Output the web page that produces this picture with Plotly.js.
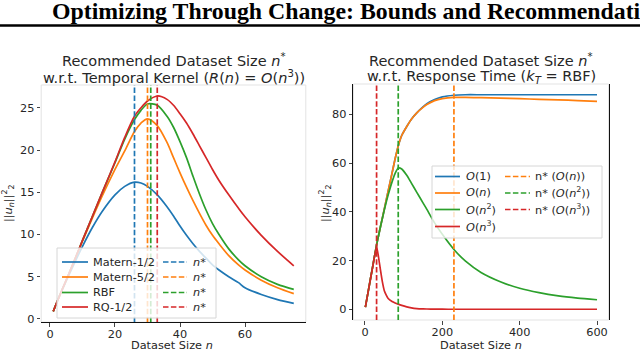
<!DOCTYPE html>
<html>
<head>
<meta charset="utf-8">
<script src="https://cdn.plot.ly/plotly-3.0.1.min.js"></script>
<style>
  html, body { margin: 0; padding: 0; background: #fff; }
  #chart { width: 640px; height: 350px; }
</style>
</head>
<body>
<div id="chart"></div>
<script>
// ---- left panel: temporal kernels ----
const nLeft = [1, 3, 5, 8, 10, 13, 16, 20, 23, 26, 28, 30, 33, 36, 38, 40, 42, 44, 46, 48, 50, 52, 55, 58, 60, 65, 70, 75];
const matern12 = [0.9, 2.8, 4.5, 7.0, 8.6, 10.8, 12.7, 14.7, 15.7, 16.2, 16.1, 15.7, 14.7, 13.3, 12.2, 11.0, 9.9, 8.9, 8.0, 7.2, 6.4, 5.8, 5.0, 4.3, 3.7, 2.9, 2.3, 1.85];
const matern52 = [0.9, 2.8, 4.6, 7.4, 9.2, 11.9, 14.5, 17.7, 19.9, 22.2, 23.2, 23.7, 22.9, 20.9, 19.1, 17.3, 15.6, 14.0, 12.5, 11.1, 9.9, 8.9, 7.5, 6.4, 5.8, 4.6, 3.7, 3.0];
const rbf = [0.9, 2.8, 4.6, 7.4, 9.3, 12.1, 14.9, 18.5, 21.3, 23.6, 24.7, 25.45, 25.3, 24.0, 22.7, 21.0, 19.1, 16.9, 14.8, 12.9, 11.3, 10.0, 8.3, 7.0, 6.3, 5.0, 4.1, 3.5];
const rq12 = [0.9, 2.8, 4.6, 7.4, 9.3, 12.1, 14.9, 18.6, 21.5, 24.0, 25.0, 25.8, 26.4, 26.0, 25.3, 24.3, 23.2, 21.9, 20.5, 19.1, 17.7, 16.4, 14.7, 13.1, 12.1, 9.9, 8.0, 6.3];
const kernelNames = ["Matern-1/2", "Matern-5/2", "RBF", "RQ-1/2"];
const kernelNStar = [26, 30, 31, 33];
const kernelNStarNames = ["<i>n</i>*", "<i>n</i>*", "<i>n</i>*", "<i>n</i>*"];

// ---- right panel: response time ----
const nRight = [1, 10, 20, 30, 35, 40, 45, 50, 55, 60, 70, 78, 86, 95, 108, 120, 134, 150, 160, 180, 200, 230, 260, 300, 350, 400, 450, 500, 550, 600];
const o1 = [1, 8.9, 17.7, 26.5, 30.2, 33.9, 37.5, 41.2, 44.9, 48.6, 55.9, 61.8, 67.0, 71.3, 75.0, 78.0, 80.6, 83.0, 84.3, 86.0, 87.1, 87.8, 88.0, 88.0, 88.0, 88.0, 88.0, 88.0, 88.0, 88.0];
const oN = [1, 8.9, 17.7, 26.5, 30.2, 33.9, 37.5, 41.2, 44.9, 48.6, 55.9, 61.8, 67.0, 71.3, 75.0, 78.0, 80.6, 82.8, 84.0, 85.6, 86.4, 86.9, 86.9, 86.8, 86.6, 86.4, 86.1, 85.9, 85.6, 85.3];
const oN2 = [1, 8.9, 17.7, 26.5, 30.2, 33.9, 37.4, 40.8, 44.0, 47.0, 52.3, 55.8, 58.0, 57.6, 55.0, 51.8, 48.0, 43.7, 41.0, 35.5, 30.8, 24.6, 19.8, 15.2, 11.4, 8.7, 6.9, 5.6, 4.7, 4.0];
const oN3 = [1, 8.9, 17.5, 25.7, 21.5, 16.2, 11.3, 7.7, 5.9, 4.5, 3.3, 2.7, 2.2, 1.7, 1.1, 0.7, 0.4, 0.25, 0.2, 0.15, 0.12, 0.1, 0.1, 0.1, 0.1, 0.1, 0.1, 0.1, 0.1, 0.1];
const costNames = ["<i>O</i>(1)", "<i>O</i>(<i>n</i>)", "<i>O</i>(<i>n</i><sup>2</sup>)", "<i>O</i>(<i>n</i><sup>3</sup>)"];
const costNStar = [230, 86, 30];
const costNStarNames = ["n* (<i>O</i>(<i>n</i>))", "n* (<i>O</i>(<i>n</i><sup>2</sup>))", "n* (<i>O</i>(<i>n</i><sup>3</sup>))"];

const colors = ["#1f77b4", "#ff7f0e", "#2ca02c", "#d62728"];
const FONT = "DejaVu Sans";
const DASH = "5.5px,2.4px";
const W = 640, H = 350;
const px = x => x / W;
const py = y => 1 - y / H;

const traces = [];

[matern12, matern52, rbf, rq12].forEach((ys, i) => {
  traces.push({
    type: "scatter", mode: "lines", x: nLeft, y: ys, name: kernelNames[i],
    xaxis: "x", yaxis: "y",
    line: { color: colors[i], width: 1.7, shape: "spline", smoothing: 0.8 }
  });
});
kernelNStar.forEach((n, i) => {
  traces.push({
    type: "scatter", mode: "lines", x: [n, n], y: [0, 1], name: kernelNStarNames[i],
    xaxis: "x", yaxis: "y3",
    line: { color: colors[i], width: 1.7, dash: DASH }
  });
});

[o1, oN, oN2, oN3].forEach((ys, i) => {
  traces.push({
    type: "scatter", mode: "lines", x: nRight, y: ys, name: costNames[i],
    xaxis: "x2", yaxis: "y2",
    line: { color: colors[i], width: 1.7, shape: "spline", smoothing: 0.6 }
  });
});
costNStar.forEach((n, i) => {
  traces.push({
    type: "scatter", mode: "lines", x: [n, n], y: [0, 1], name: costNStarNames[i],
    xaxis: "x2", yaxis: "y4",
    line: { color: colors[i + 1], width: 1.7, dash: DASH }
  });
});

const tickFont = { family: FONT, size: 11.3, color: "#262626" };
const axisBase = {
  ticks: "outside", ticklen: 3.5, tickwidth: 1, tickcolor: "#444",
  showgrid: false, zeroline: false, tickfont: tickFont, fixedrange: true
};

const ann = (text, x, y, size, extra) => Object.assign({
  text, x: px(x), y: py(y), xref: "paper", yref: "paper",
  showarrow: false, xanchor: "center", yanchor: "middle",
  font: { family: FONT, size, color: "#262626" }
}, extra || {});

const shapes = [
  // light frames around both panels
  { type: "rect", xref: "x domain", yref: "y domain", x0: 0, x1: 1, y0: 0, y1: 1, layer: "below", line: { color: "#e3e3e3", width: 1 } },
  { type: "rect", xref: "x2 domain", yref: "y2 domain", x0: 0, x1: 1, y0: 0, y1: 1, layer: "below", line: { color: "#e3e3e3", width: 1 } },
  // rule under the page header
  { type: "line", xref: "paper", yref: "paper", x0: 0, x1: 1, y0: py(25.5), y1: py(25.5), line: { color: "#000", width: 2.5 } }
];

const annotations = [
  ann("<b>Optimizing Through Change: Bounds and Recommendations</b>", 50, 11, 23.8,
    { xanchor: "left", font: { family: "Liberation Serif", size: 23.8, color: "#000" } }),
  ann("Recommended Dataset Size <i>n</i><sup>*</sup>", 173.5, 60.5, 14.5),
  ann("w.r.t. Temporal Kernel (<i>R</i>(<i>n</i>) = <i>O</i>(<i>n</i><sup>3</sup>))", 173.5, 77, 14.5),
  ann("Recommended Dataset Size <i>n</i><sup>*</sup>", 481, 60.5, 14.5),
  ann("w.r.t. Response Time (<i>k</i><sub><i>T</i></sub> = RBF)", 481, 77, 14.5),
  ann("Dataset Size <i>n</i>", 172, 345, 11.3),
  ann("Dataset Size <i>n</i>", 481, 345, 11.3),
  ann("||<i>u</i><sub><i>n</i></sub>||<sup>2</sup><sub>2</sub>", 8, 203, 11.3, { textangle: -90 }),
  ann("||<i>u</i><sub><i>n</i></sub>||<sup>2</sup><sub>2</sub>", 325, 203, 11.3, { textangle: -90 })
];

// two-column legend boxes drawn in paper space (column-major, like the original)
function addLegend(box, rows, columns) {
  shapes.push({
    type: "rect", xref: "paper", yref: "paper", layer: "above",
    x0: px(box[0]), x1: px(box[1]), y0: py(box[3]), y1: py(box[2]),
    fillcolor: "rgba(255,255,255,0.8)", line: { color: "#d6d6d6", width: 1 }
  });
  columns.forEach(col => {
    col.labels.forEach((label, i) => {
      shapes.push({
        type: "line", xref: "paper", yref: "paper", layer: "above",
        x0: px(col.x[0]), x1: px(col.x[1]), y0: py(rows[i]), y1: py(rows[i]),
        line: { color: col.colors[i], width: 1.7, dash: col.dash }
      });
      annotations.push(ann(label, col.x[2], rows[i], 11.3, { xanchor: "left" }));
    });
  });
}

addLegend([57, 216, 248, 318], [262, 277, 292.5, 307], [
  { labels: kernelNames, colors: colors, x: [62, 88, 91], dash: "solid" },
  { labels: kernelNStarNames, colors: colors, x: [163, 187, 191], dash: DASH }
]);
addLegend([432, 602, 166, 238], [176.5, 193, 209.5, 226.5], [
  { labels: costNames, colors: colors, x: [435, 460, 464], dash: "solid" },
  { labels: costNStarNames, colors: colors.slice(1), x: [505, 530, 533], dash: DASH }
]);

const layout = {
  width: W, height: H,
  margin: { l: 0, r: 0, t: 0, b: 0 },
  paper_bgcolor: "#fff", plot_bgcolor: "#fff",
  showlegend: false,
  xaxis: Object.assign({}, axisBase, {
    domain: [px(41.2), px(305.8)], range: [-2.7, 78.7], anchor: "y",
    tickvals: [0, 20, 40, 60], ticklabelstandoff: -2,
    showline: true, linecolor: "#111", linewidth: 1.2
  }),
  yaxis: Object.assign({}, axisBase, {
    domain: [py(322.2), py(85)], range: [-0.38, 27.7], anchor: "x",
    tickvals: [0, 5, 10, 15, 20, 25]
  }),
  yaxis3: { overlaying: "y", anchor: "x", range: [0, 1], visible: false, fixedrange: true },
  xaxis2: Object.assign({}, axisBase, {
    domain: [px(353.4), px(608.6)], range: [-29.95, 629.95], anchor: "y2",
    tickvals: [0, 200, 400, 600], ticklabelstandoff: -2
  }),
  yaxis2: Object.assign({}, axisBase, {
    domain: [py(320), py(84)], range: [-4.3, 92.4], anchor: "x2",
    tickvals: [0, 20, 40, 60, 80], showline: true, mirror: true, linecolor: "#111", linewidth: 1.2
  }),
  yaxis4: { overlaying: "y2", anchor: "x2", range: [0, 1], visible: false, fixedrange: true },
  shapes,
  annotations
};

Plotly.newPlot("chart", traces, layout, { displayModeBar: false, staticPlot: true });
</script>
</body>
</html>
